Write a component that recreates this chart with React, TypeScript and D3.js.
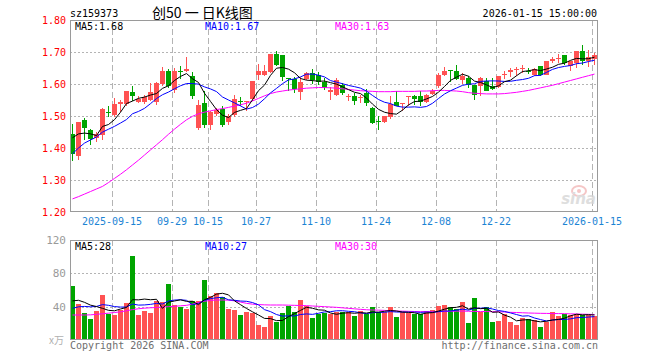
import React from "react";
import * as d3 from "d3";

// trading days shown (2025-09-04 .. 2026-01-15)
const sepDays = [4, 5, 8, 9, 10, 11, 12, 15, 16, 17, 18, 19, 22, 23, 24, 25, 26, 29, 30];
const octDays = [9, 10, 13, 14, 15, 16, 17, 20, 21, 22, 23, 24, 27, 28, 29, 30, 31];
const novDays = [3, 4, 5, 6, 7, 10, 11, 12, 13, 14, 17, 18, 19, 20, 21, 24, 25, 26, 27, 28];
const decDays = [1, 2, 3, 4, 5, 8, 9, 10, 11, 12, 15, 16, 17, 18, 19, 22, 23, 24, 25, 26, 29, 30, 31];
const janDays = [5, 6, 7, 8, 9, 12, 13, 14, 15];

const pad = (d: number) => (d < 10 ? "0" + d : "" + d);
const dates: string[] = [
  ...sepDays.map((d) => `2025-09-${pad(d)}`),
  ...octDays.map((d) => `2025-10-${pad(d)}`),
  ...novDays.map((d) => `2025-11-${pad(d)}`),
  ...decDays.map((d) => `2025-12-${pad(d)}`),
  ...janDays.map((d) => `2026-01-${pad(d)}`),
];

const tickDates = ["2025-09-15", "2025-09-29", "2025-10-15", "2025-10-27", "2025-11-10", "2025-11-24", "2025-12-08", "2025-12-22", "2026-01-15"];
const tickLabels = ["2025-09-15", "09-29", "10-15", "10-27", "11-10", "11-24", "12-08", "12-22", "2026-01-15"];

const openP = [
  1.445, 1.374, 1.489, 1.457, 1.431, 1.442, 1.514, 1.504, 1.539, 1.537,
  1.575, 1.545, 1.543, 1.551, 1.545, 1.600, 1.642, 1.581, 1.642, 1.640,
  1.624, 1.462, 1.541, 1.473, 1.507, 1.523, 1.481, 1.504, 1.546, 1.543,
  1.554, 1.627, 1.629, 1.637, 1.695, 1.690, 1.619, 1.616, 1.575, 1.616,
  1.634, 1.629, 1.605, 1.575, 1.567, 1.598, 1.559, 1.564, 1.556, 1.572,
  1.525, 1.484, 1.481, 1.496, 1.543, 1.538, 1.558, 1.564, 1.564, 1.544,
  1.569, 1.593, 1.627, 1.643, 1.640, 1.614, 1.619, 1.596, 1.593, 1.610,
  1.593, 1.591, 1.627, 1.637, 1.645, 1.646, 1.642, 1.627, 1.655, 1.629,
  1.673, 1.678, 1.690, 1.655, 1.666, 1.704, 1.673, 1.679,
];
const highP = [
  1.476, 1.482, 1.493, 1.459, 1.449, 1.525, 1.530, 1.556, 1.551, 1.579,
  1.593, 1.561, 1.567, 1.603, 1.606, 1.652, 1.647, 1.650, 1.657, 1.683,
  1.636, 1.551, 1.577, 1.515, 1.525, 1.530, 1.507, 1.567, 1.559, 1.548,
  1.610, 1.662, 1.660, 1.695, 1.702, 1.692, 1.619, 1.621, 1.621, 1.638,
  1.647, 1.638, 1.619, 1.590, 1.619, 1.603, 1.569, 1.572, 1.567, 1.584,
  1.527, 1.499, 1.501, 1.561, 1.577, 1.541, 1.564, 1.567, 1.577, 1.569,
  1.585, 1.634, 1.653, 1.643, 1.660, 1.634, 1.624, 1.598, 1.621, 1.619,
  1.619, 1.624, 1.642, 1.650, 1.652, 1.660, 1.650, 1.650, 1.657, 1.673,
  1.683, 1.694, 1.690, 1.673, 1.704, 1.721, 1.705, 1.696,
];
const lowP = [
  1.358, 1.363, 1.426, 1.410, 1.418, 1.426, 1.497, 1.497, 1.511, 1.532,
  1.546, 1.541, 1.537, 1.548, 1.535, 1.593, 1.588, 1.572, 1.616, 1.638,
  1.553, 1.457, 1.462, 1.457, 1.499, 1.466, 1.471, 1.497, 1.532, 1.515,
  1.548, 1.611, 1.624, 1.634, 1.655, 1.608, 1.577, 1.572, 1.551, 1.611,
  1.601, 1.598, 1.582, 1.549, 1.561, 1.567, 1.546, 1.535, 1.541, 1.530,
  1.476, 1.455, 1.478, 1.492, 1.530, 1.515, 1.530, 1.535, 1.530, 1.541,
  1.567, 1.588, 1.626, 1.605, 1.611, 1.600, 1.587, 1.549, 1.561, 1.577,
  1.582, 1.587, 1.616, 1.621, 1.624, 1.634, 1.631, 1.624, 1.624, 1.627,
  1.666, 1.666, 1.660, 1.642, 1.650, 1.660, 1.653, 1.658,
];
const closeP = [
  1.380, 1.480, 1.463, 1.428, 1.443, 1.523, 1.510, 1.539, 1.544, 1.579,
  1.561, 1.553, 1.559, 1.575, 1.603, 1.642, 1.593, 1.642, 1.638, 1.648,
  1.561, 1.535, 1.473, 1.511, 1.520, 1.473, 1.499, 1.553, 1.543, 1.548,
  1.610, 1.642, 1.640, 1.695, 1.660, 1.621, 1.616, 1.584, 1.605, 1.634,
  1.614, 1.606, 1.587, 1.580, 1.611, 1.572, 1.562, 1.546, 1.559, 1.541,
  1.478, 1.480, 1.501, 1.538, 1.532, 1.541, 1.561, 1.554, 1.544, 1.567,
  1.579, 1.629, 1.642, 1.640, 1.616, 1.626, 1.598, 1.565, 1.619, 1.579,
  1.584, 1.624, 1.630, 1.643, 1.648, 1.650, 1.636, 1.648, 1.627, 1.673,
  1.678, 1.681, 1.666, 1.671, 1.704, 1.671, 1.683, 1.690,
];
// closes before the first visible day (feed the moving averages)
const prevClose = [1.30, 1.31, 1.33, 1.35, 1.37, 1.42, 1.45, 1.44, 1.47];

// MA30 (needs history not shown)
const ma30P = [
  1.241, 1.248, 1.256, 1.264, 1.272, 1.280, 1.292, 1.305, 1.318, 1.332,
  1.347, 1.362, 1.378, 1.394, 1.410, 1.426, 1.443, 1.459, 1.474, 1.488,
  1.499, 1.507, 1.512, 1.516, 1.520, 1.523, 1.527, 1.531, 1.535, 1.540,
  1.547, 1.555, 1.563, 1.570, 1.575, 1.578, 1.581, 1.583, 1.585, 1.587,
  1.588, 1.589, 1.589, 1.588, 1.587, 1.585, 1.583, 1.581, 1.579, 1.578,
  1.577, 1.576, 1.576, 1.576, 1.577, 1.577, 1.577, 1.577, 1.578, 1.578,
  1.579, 1.580, 1.580, 1.579, 1.578, 1.576, 1.573, 1.571, 1.570, 1.569,
  1.569, 1.569, 1.570, 1.572, 1.574, 1.577, 1.580, 1.584, 1.588, 1.592,
  1.596, 1.601, 1.606, 1.611, 1.616, 1.621, 1.626, 1.631,
];

// volume, 万
const volume = [
  64.8, 43.2, 32.8, 25.2, 34.8, 54, 31.2, 30, 36, 44,
  100.8, 30, 34.8, 32, 46.8, 46, 67.2, 42, 39.2, 37.2,
  46.8, 46.8, 72, 52.8, 56.8, 52, 37.2, 36, 30, 34,
  32, 18, 15.6, 28.8, 22, 32.8, 40.8, 34, 48, 40.8,
  26.8, 31.2, 32, 31.2, 33.2, 33.2, 34, 28.8, 34.8, 30.8,
  39.6, 33.2, 34, 39.6, 27.6, 33.2, 32, 30.8, 30.8, 34.8,
  36, 41.2, 42, 39.6, 37.2, 45.6, 20.8, 50.4, 34, 39.6,
  21.6, 22.8, 31.2, 21.6, 18, 26.4, 25.2, 23.6, 15.6, 22,
  33.6, 28.8, 30.8, 30, 31.6, 29.6, 30, 28.8,
];
const prevVolume = [25, 28, 30, 30, 32, 40, 45, 42, 43.2];
const ma30V = [
  30, 30, 30, 30.2, 30.8, 31.5, 32.2, 33, 33.8, 35,
  36.5, 37.5, 38.2, 38.7, 39, 39.5, 40, 40.5, 41, 41.6,
  43, 45, 46.5, 47.5, 48, 48, 47.8, 47, 45.5, 44,
  43, 42.5, 42.2, 42, 42, 42, 41.8, 41.6, 41.4, 41.2,
  40.8, 40.4, 40, 39.6, 39.2, 38.6, 38, 37.4, 36.8, 36.3,
  36, 35.8, 35.5, 35.2, 34.8, 34.6, 34.4, 34.2, 34, 34,
  33.9, 34, 34.2, 34.4, 34.6, 34.7, 34.5, 34.3, 34.2, 34.1,
  34, 33.9, 33.6, 33.2, 33, 32.7, 32.4, 32.2, 32, 31.9,
  31.8, 31.7, 31.6, 31.4, 31.2, 31, 30.8, 30.6,
];

const priceTicks = [1.8, 1.7, 1.6, 1.5, 1.4, 1.3, 1.2];
const volTicks = [120, 80, 40];

const RED = "#ff5252";
const GREEN = "#00a400";
const MONO = "'DejaVu Sans Mono', monospace";

function movingAvg(vals: number[], prev: number[], n: number) {
  const all = prev.concat(vals);
  return vals.map((_, i) => {
    const end = i + prev.length + 1;
    return d3.mean(all.slice(end - n, end)) as number;
  });
}

export default function App() {
  const left = 70, right = 598;
  const pTop = 20, pBottom = 212;
  const vTop = 240, vBottom = 340;

  const x = d3.scaleLinear().domain([0, dates.length]).range([left, right]);
  const y = d3.scaleLinear().domain([1.2, 1.8]).range([pBottom, pTop]);
  const yv = d3.scaleLinear().domain([0, 120]).range([vBottom, vTop]);

  const ma5P = movingAvg(closeP, prevClose, 5);
  const ma10P = movingAvg(closeP, prevClose, 10);
  const ma5V = movingAvg(volume, prevVolume, 5);
  const ma10V = movingAvg(volume, prevVolume, 10);

  const cx = (i: number) => x(i) + 2.5;
  const lineP = d3.line<number>().x((_, i) => cx(i)).y((d) => y(d));
  const lineV = d3.line<number>().x((_, i) => cx(i)).y((d) => yv(d));

  const tickIdx = tickDates.map((d) => dates.indexOf(d));
  const up = (i: number) => closeP[i] >= openP[i];

  return (
    <svg width={660} height={360} style={{ position: "absolute", left: 0, top: 0, background: "#fff" }}
      fontFamily={MONO} fontSize={10}>
      {/* header */}
      <text x={70} y={17}>sz159373</text>
      <text x={152} y={18} fontFamily="'Noto Sans CJK SC', sans-serif" fontSize={14}>创50 一 日K线图</text>
      <text x={597} y={17} textAnchor="end">2026-01-15 15:00:00</text>

      {/* price grid */}
      {priceTicks.slice(1, -1).map((t) => (
        <line key={t} x1={left} x2={right} y1={Math.round(y(t)) + 0.5} y2={Math.round(y(t)) + 0.5}
          stroke="#b4b4b4" strokeDasharray="2,2" />
      ))}
      {tickIdx.map((i) => (
        <line key={"pv" + i} x1={Math.round(x(i)) + 0.5} x2={Math.round(x(i)) + 0.5} y1={pTop} y2={pBottom}
          stroke="#b4b4b4" strokeDasharray="6,3" />
      ))}
      {priceTicks.map((t) => (
        <text key={"pl" + t} x={66} y={y(t) + 4} textAnchor="end" fill="#ff0000">{t.toFixed(2)}</text>
      ))}
      {tickIdx.map((i, k) => (
        <text key={"xl" + i} x={x(i)} y={225} textAnchor="middle" fill="#1c84d4">{tickLabels[k]}</text>
      ))}

      {/* sina watermark */}
      <g opacity={0.8}>
        <ellipse cx={579} cy={191} rx={7} ry={5} fill="none" stroke="#f3b8b8" strokeWidth={2} />
        <circle cx={579} cy={191} r={2} fill="#f3b8b8" />
        <text x={596} y={204} textAnchor="end" fontFamily="'DejaVu Sans', sans-serif" fontSize={15}
          fontWeight="bold" fontStyle="italic" fill="#d6d6d6">sina</text>
      </g>

      {/* candles */}
      {dates.map((d, i) => {
        const c = up(i) ? RED : GREEN;
        const top = Math.round(y(Math.max(openP[i], closeP[i])));
        const bot = Math.round(y(Math.min(openP[i], closeP[i])));
        return (
          <g key={d} shapeRendering="crispEdges">
            <rect x={x(i) + 2} y={Math.round(y(highP[i]))} width={1}
              height={Math.max(1, Math.round(y(lowP[i])) - Math.round(y(highP[i])))} fill={c} />
            <rect x={x(i)} y={top} width={5} height={Math.max(1, bot - top)} fill={c} />
          </g>
        );
      })}
      <path d={lineP(ma30P) || ""} fill="none" stroke="#ff00ff" strokeWidth={1} />
      <path d={lineP(ma10P) || ""} fill="none" stroke="#0000ff" strokeWidth={1} />
      <path d={lineP(ma5P) || ""} fill="none" stroke="#000" strokeWidth={1} />

      <rect x={left + 0.5} y={pTop + 0.5} width={right - left - 1} height={pBottom - pTop - 1}
        fill="none" stroke="#9a9a9a" />
      <text x={75} y={30}>MA5:1.68</text>
      <text x={205} y={30} fill="#0000ff">MA10:1.67</text>
      <text x={335} y={30} fill="#ff00ff">MA30:1.63</text>

      {/* volume panel */}
      {volTicks.slice(1).map((t) => (
        <line key={"vg" + t} x1={left} x2={right} y1={Math.round(yv(t)) + 0.5} y2={Math.round(yv(t)) + 0.5}
          stroke="#b4b4b4" strokeDasharray="2,2" />
      ))}
      {tickIdx.map((i) => (
        <line key={"vv" + i} x1={Math.round(x(i)) + 0.5} x2={Math.round(x(i)) + 0.5} y1={vTop} y2={vBottom}
          stroke="#b4b4b4" strokeDasharray="6,3" />
      ))}
      {volTicks.map((t) => (
        <text key={"vl" + t} x={66} y={yv(t) + 4} textAnchor="end" fill="#9a9a9a" fontSize={11}>{t}</text>
      ))}
      <text x={64} y={344} textAnchor="end" fill="#b0b0b0" fontSize={10} fontFamily="'Noto Sans CJK SC', sans-serif">x万</text>
      {volume.map((v, i) => (
        <rect key={"b" + i} x={x(i)} y={Math.round(yv(v))} width={5} height={vBottom - Math.round(yv(v))}
          fill={up(i) ? RED : GREEN} shapeRendering="crispEdges" />
      ))}
      <path d={lineV(ma30V) || ""} fill="none" stroke="#ff00ff" strokeWidth={1} />
      <path d={lineV(ma10V) || ""} fill="none" stroke="#0000ff" strokeWidth={1} />
      <path d={lineV(ma5V) || ""} fill="none" stroke="#000" strokeWidth={1} />
      <rect x={left + 0.5} y={vTop + 0.5} width={right - left - 1} height={vBottom - vTop - 1}
        fill="none" stroke="#9a9a9a" />
      <text x={75} y={250}>MA5:28</text>
      <text x={205} y={250} fill="#0000ff">MA10:27</text>
      <text x={335} y={250} fill="#ff00ff">MA30:30</text>

      <text x={70} y={349} fill="#6e6e6e">Copyright 2026 SINA.COM</text>
      <text x={598} y={349} textAnchor="end" fill="#6e6e6e">http://finance.sina.com.cn</text>
    </svg>
  );
}
